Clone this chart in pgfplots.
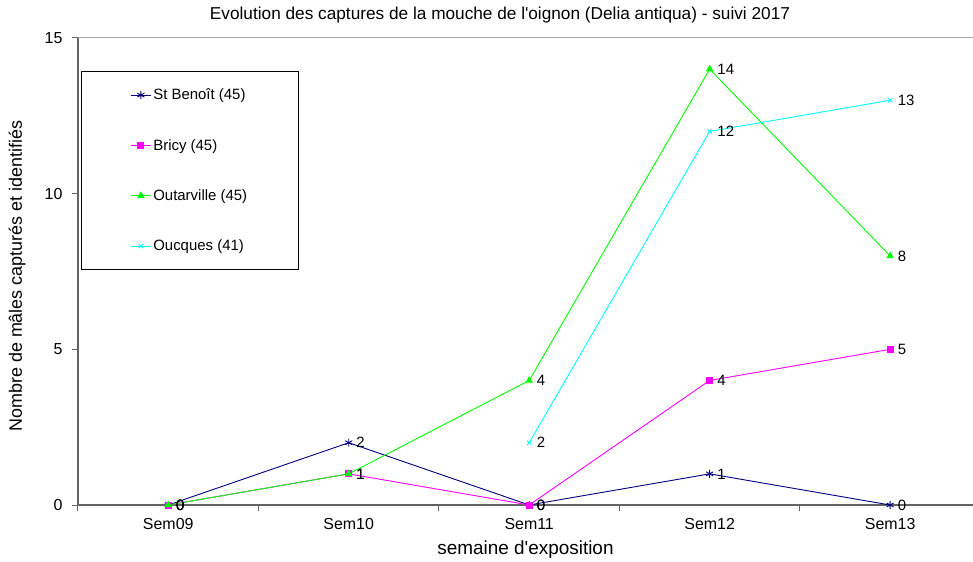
\documentclass[border=0pt]{standalone}
\usepackage{fontspec}
\setmainfont{Liberation Sans}
\usepackage{pgfplots}
\pgfplotsset{compat=1.18}
\definecolor{cnavy}{RGB}{0,0,128}
\definecolor{cmag}{RGB}{255,0,255}
\definecolor{cgreen}{RGB}{0,255,0}
\definecolor{ccyan}{RGB}{0,255,255}
\definecolor{axgray}{RGB}{100,100,100}
\newcommand{\fsT}{\fontsize{16}{19}\selectfont}
\newcommand{\fsL}{\fontsize{15}{18}\selectfont}
\newcommand{\fsA}{\fontsize{19}{22}\selectfont}
\newcommand{\fsY}{\fontsize{18}{21}\selectfont}
\newcommand{\fsH}{\fontsize{17.3}{20}\selectfont}
\begin{document}
\begin{tikzpicture}
\useasboundingbox (-78bp,-57bp) rectangle (895bp,505bp);
\begin{axis}[
  at={(0,0)}, anchor=south west,
  scale only axis, width=895bp, height=467bp,
  xmin=-0.5, xmax=4.459, ymin=0, ymax=15,
  axis x line*=bottom, axis y line*=left,
  axis line style={axgray, line width=1.2bp},
  tick style={axgray, line width=1bp},
  tick align=outside,
  xtick={0,1,2,3,4},
  xticklabels={Sem09,Sem10,Sem11,Sem12,Sem13},
  major x tick style={draw=none},
  minor xtick={-0.5,0.5,1.5,2.5,3.5},
  minor tick length=6bp,
  ytick={0,5,10,15},
  major tick length=6bp,
  /pgf/number format/assume math mode=true,
  tick label style={font=\fsT, text=black},
  yticklabel style={xshift=-6bp},
  xticklabel style={yshift=-4bp},
  unbounded coords=jump,
  clip=false,
  xlabel={semaine d\textquotesingle exposition},
  xlabel style={at={(axis description cs:0.5,0)}, anchor=center, yshift=-45bp, font=\fsA},
  ylabel={Nombre de mâles capturés et identifiés},
  ylabel style={at={(axis description cs:-0.068,0.49)}, anchor=center, font=\fsY},
  legend style={at={(axis description cs:0.0034,0.9293)}, anchor=north west,
    draw=black, line width=0.8bp, inner xsep=49bp, inner ysep=15.5bp,
    font=\fsL, row sep=34bp, cells={anchor=west}},
  legend image code/.code={\draw[#1, mark repeat=2, mark phase=2] plot coordinates {(0bp,0bp)(10bp,0bp)(20bp,0bp)};},
  every axis plot/.append style={line width=0.9bp},
  nodes near coords,
  every node near coord/.append style={anchor=west, font=\fsL, text=black, xshift=4bp},
]
\addplot[cnavy, mark=asterisk, mark size=4bp, mark options={line width=0.9bp}] coordinates {(0,0) (1,2) (2,0) (3,1) (4,0)};
\addlegendentry{St Benoît (45)}
\addplot[cmag, mark=square*, mark size=3bp] coordinates {(0,0) (1,1) (2,0) (3,4) (4,5)};
\addlegendentry{Bricy (45)}
\addplot[cgreen, mark=triangle*, mark size=3.5bp] coordinates {(0,0) (1,1) (2,4) (3,14) (4,8)};
\addlegendentry{Outarville (45)}
\addplot[ccyan, mark=x, mark size=3bp, mark options={line width=0.9bp}] coordinates {(0,nan) (1,nan) (2,2) (3,12) (4,13)};
\addlegendentry{Oucques (41)}
\draw[gray!70, line width=1bp] (rel axis cs:0,1) -- (rel axis cs:1,1);
\end{axis}
\node[font=\fsH, anchor=center] at (422bp,490bp) {Evolution des captures de la mouche de l\textquotesingle oignon (Delia antiqua) - suivi 2017};
\end{tikzpicture}
\end{document}
